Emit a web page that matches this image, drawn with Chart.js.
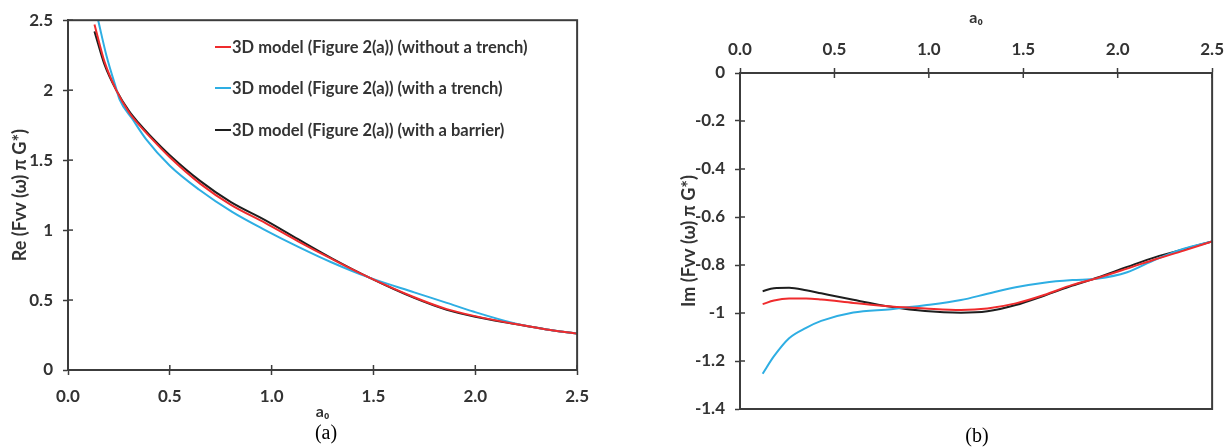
<!DOCTYPE html>
<html>
<head>
<meta charset="utf-8">
<script src="https://cdn.jsdelivr.net/npm/chart.js@4.4.0/dist/chart.umd.min.js"></script>
<style>
  html, body { margin: 0; padding: 0; background: #fff; }
  #wrap { position: relative; width: 1232px; height: 447px; overflow: hidden; background: #fff; }
  #c1 { position: absolute; left: 0; top: 0; }
  #c2 { position: absolute; left: 640px; top: 0; }
  #legend { position: absolute; left: 215px; top: 26px; font: bold 16.5px Lato, sans-serif; color: #333; }
  #legend .row { height: 41.5px; display: flex; align-items: center; white-space: nowrap; }
  #legend .sw { display: inline-block; width: 16px; height: 2px; margin-right: 1px; }
  .cap { position: absolute; font: 20px "Liberation Serif", "DejaVu Serif", serif; color: #000; transform: translate(-50%, -50%); white-space: nowrap; }
</style>
</head>
<body>
<div id="wrap">
  <canvas id="c1" width="600" height="447"></canvas>
  <canvas id="c2" width="592" height="447"></canvas>
  <div id="legend"></div>
  <div class="cap" style="left:326px; top:432px;">(a)</div>
  <div class="cap" style="left:977px; top:435px;">(b)</div>
</div>
<script>
// ---------------- data ----------------
const seriesLabels = [
  '3D model (Figure 2(a)) (without a trench)',
  '3D model (Figure 2(a)) (with a trench)',
  '3D model (Figure 2(a)) (with a barrier)'
];
const seriesColors = ['#ef2b2d', '#2eaee3', '#1e1e1e'];

// (a) real part
const reX      = [0.13, 0.18, 0.237, 0.3, 0.35, 0.4, 0.5, 0.65, 0.8, 0.97, 1.13, 1.3, 1.48, 1.7, 1.86, 2.0, 2.19, 2.35, 2.5];
const reRed    = [2.47, 2.20, 2.00, 1.84, 1.75, 1.67, 1.52, 1.33, 1.18, 1.05, 0.92, 0.79, 0.66, 0.52, 0.435, 0.385, 0.33, 0.29, 0.26];
const reBlack  = [2.42, 2.18, 2.00, 1.85, 1.76, 1.68, 1.535, 1.35, 1.20, 1.07, 0.935, 0.795, 0.66, 0.515, 0.43, 0.38, 0.33, 0.29, 0.26];
const reCyanX  = [0.148, 0.19, 0.237, 0.253, 0.318, 0.383, 0.5, 0.643, 0.806, 0.968, 1.131, 1.293, 1.48, 1.7, 1.86, 1.99, 2.19, 2.35, 2.5];
const reCyan   = [2.5, 2.24, 2.01, 1.935, 1.79, 1.65, 1.46, 1.29, 1.13, 1.0, 0.88, 0.77, 0.66, 0.555, 0.48, 0.418, 0.335, 0.29, 0.26];

// (b) imaginary part
const imX      = [0.12, 0.18, 0.26, 0.35, 0.43, 0.6, 0.8, 0.98, 1.17, 1.31, 1.46, 1.61, 1.76, 1.89, 2.05, 2.2, 2.35, 2.5];
const imRed    = [-0.963, -0.948, -0.940, -0.940, -0.944, -0.958, -0.973, -0.981, -0.987, -0.981, -0.960, -0.925, -0.883, -0.855, -0.815, -0.776, -0.740, -0.702];
const imCyan   = [-1.253, -1.18, -1.105, -1.062, -1.033, -0.998, -0.984, -0.968, -0.946, -0.920, -0.893, -0.874, -0.863, -0.857, -0.830, -0.777, -0.732, -0.702];
const imBlack  = [-0.909, -0.897, -0.895, -0.905, -0.918, -0.945, -0.974, -0.992, -0.999, -0.993, -0.967, -0.928, -0.886, -0.853, -0.808, -0.767, -0.734, -0.702];

// tick labels
const xTickLabels  = ['0.0', '0.5', '1.0', '1.5', '2.0', '2.5'];
const reTickLabels = ['0', '0.5', '1', '1.5', '2', '2.5'];
const imTickLabels = ['-1.4', '-1.2', '-1', '-0.8', '-0.6', '-0.4', '-0.2', '0'];

// ---------------- helpers ----------------
const AXIS = '#3c3c3c';
const TXT = '#333333';
Chart.defaults.font.family = 'Lato, "Open Sans", sans-serif';

function pts(xs, ys) { return xs.map((x, i) => ({ x: x, y: ys[i] })); }

function ds(label, color, data, smooth) {
  return {
    label: label, data: data, borderColor: color, backgroundColor: color,
    borderWidth: 2, pointRadius: 0, fill: false,
    tension: smooth ? 0.4 : 0.2, cubicInterpolationMode: 'monotone'
  };
}

const frameTicks = {
  id: 'frameTicks',
  afterDraw(chart) {
    const ctx = chart.ctx, a = chart.chartArea;
    const xs = chart.scales.x, ys = chart.scales.y;
    ctx.save();
    ctx.strokeStyle = AXIS;
    ctx.lineWidth = 2;
    ctx.strokeRect(a.left, a.top, a.right - a.left, a.bottom - a.top);
    ctx.lineWidth = 1.5;
    const top = xs.position === 'top';
    const edge = top ? a.top : a.bottom;
    const dir = top ? 1 : -1;
    xs.ticks.forEach((t, i) => {
      const p = xs.getPixelForTick(i);
      ctx.beginPath(); ctx.moveTo(p, edge); ctx.lineTo(p, edge + dir * 5); ctx.stroke();
    });
    ys.ticks.forEach((t, i) => {
      const p = ys.getPixelForTick(i);
      ctx.beginPath(); ctx.moveTo(a.left, p); ctx.lineTo(a.left + 5, p); ctx.stroke();
    });
    ctx.restore();
  }
};

const tickFont = { size: 17, weight: 'bold' };
const titleFont = { size: 18, weight: 'bold' };
const gridOpts = { drawOnChartArea: false, drawTicks: true, tickLength: 5, tickColor: AXIS, tickWidth: 1.5 };
const borderOpts = { display: true, color: AXIS, width: 2 };

// ---------------- chart (a) ----------------
new Chart(document.getElementById('c1'), {
  type: 'line',
  data: {
    datasets: [
      ds(seriesLabels[0], seriesColors[0], pts(reX, reRed), false),
      ds(seriesLabels[1], seriesColors[1], pts(reCyanX, reCyan), false),
      ds(seriesLabels[2], seriesColors[2], pts(reX, reBlack), false)
    ]
  },
  options: {
    responsive: false, animation: false,
    layout: { padding: { top: 17, right: 19, left: 0, bottom: 0 } },
    plugins: { legend: { display: false }, tooltip: { enabled: false } },
    scales: {
      x: {
        type: 'linear', position: 'bottom', min: 0, max: 2.5,
        ticks: { stepSize: 0.5, autoSkip: false, maxRotation: 0, color: TXT, font: tickFont, padding: 11,
                 callback: (v, i) => xTickLabels[i] },
        grid: gridOpts, border: borderOpts,
        title: { display: true, text: 'a₀', color: TXT, font: { size: 16, weight: 'bold' }, padding: { top: 0, bottom: 26 } },
        afterFit(s) { s.height = 77; }
      },
      y: {
        type: 'linear', position: 'left', min: 0, max: 2.5,
        ticks: { stepSize: 0.5, autoSkip: false, color: TXT, font: tickFont, padding: 10,
                 callback: (v, i) => reTickLabels[i] },
        grid: gridOpts, border: borderOpts,
        title: { display: true, text: 'Re (Fvv (ω) π G*)', color: TXT, font: titleFont, padding: { top: 9, bottom: 0 } },
        afterFit(s) { s.width = 68; }
      }
    }
  },
  plugins: [frameTicks]
});

// ---------------- chart (b) ----------------
new Chart(document.getElementById('c2'), {
  type: 'line',
  data: {
    datasets: [
      ds(seriesLabels[0], seriesColors[0], pts(imX, imRed), true),
      ds(seriesLabels[1], seriesColors[1], pts(imX, imCyan), true),
      ds(seriesLabels[2], seriesColors[2], pts(imX, imBlack), true)
    ]
  },
  options: {
    responsive: false, animation: false,
    layout: { padding: { top: 0, right: 18, left: 0, bottom: 38 } },
    plugins: { legend: { display: false }, tooltip: { enabled: false } },
    scales: {
      x: {
        type: 'linear', position: 'top', min: 0, max: 2.5,
        ticks: { stepSize: 0.5, autoSkip: false, maxRotation: 0, color: TXT, font: tickFont, padding: 8,
                 callback: (v, i) => xTickLabels[i] },
        grid: gridOpts, border: borderOpts,
        title: { display: true, text: 'a₀', color: TXT, font: { size: 16, weight: 'bold' }, padding: { top: 8, bottom: 0 } },
        afterFit(s) { s.height = 73; }
      },
      y: {
        type: 'linear', position: 'left', min: -1.4, max: 0,
        ticks: { stepSize: 0.2, autoSkip: false, color: TXT, font: tickFont, padding: 10,
                 callback: (v, i) => imTickLabels[i] },
        grid: gridOpts, border: borderOpts,
        title: { display: true, text: 'Im (Fvv (ω) π G*)', color: TXT, font: titleFont, padding: { top: 38, bottom: 0 } },
        afterFit(s) { s.width = 100; }
      }
    }
  },
  plugins: [frameTicks]
});

// ---------------- HTML legend for (a) ----------------
const legend = document.getElementById('legend');
seriesLabels.forEach((lab, i) => {
  const row = document.createElement('div');
  row.className = 'row';
  const sw = document.createElement('span');
  sw.className = 'sw';
  sw.style.background = seriesColors[i];
  row.appendChild(sw);
  row.appendChild(document.createTextNode(lab));
  legend.appendChild(row);
});
</script>
</body>
</html>
